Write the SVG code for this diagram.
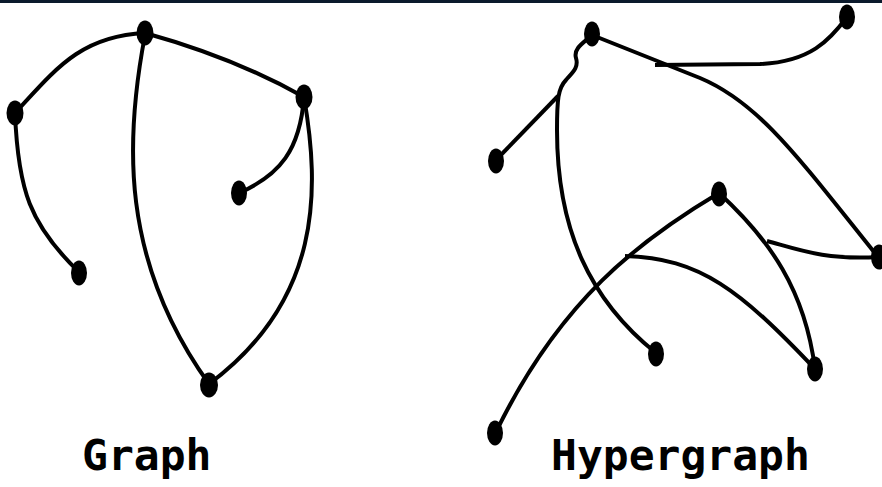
<svg xmlns="http://www.w3.org/2000/svg" width="882" height="487" viewBox="0 0 882 487">
<style>
.e{fill:none;stroke:#000;stroke-width:4;stroke-linecap:butt;stroke-linejoin:round}
.n{fill:#000}
.t{font-family:"DejaVu Sans Mono","Liberation Mono",monospace;font-weight:bold;font-size:43px;fill:#000}
</style>
<rect x="0" y="0" width="882" height="487" fill="#fff"/>
<rect x="0" y="0" width="882" height="3" fill="#0b1a2c"/>
<g id="connectors">
<!-- Graph -->
<path class="e" d="M15,113 C55,70 80,36 145,33"/>
<path class="e" d="M145,33 Q235,58 304,97"/>
<path class="e" d="M145,35 C125,140 120,260 209,384"/>
<path class="e" d="M304,97 C320,190 322,300 209,384"/>
<path class="e" d="M304,97 C300,150 280,175 239,193"/>
<path class="e" d="M15,113 C18,190 30,225 79,272"/>
<!-- Hypergraph -->
<path class="e" d="M592,35 C585,42 573,48 576,58 C579,68 572,73 566,80 C558,88 557,100 557,130 C557,230 590,300 656,353"/>
<path class="e" d="M558,96 L496,160"/>
<path class="e" d="M847,17 C830,40 810,62 760,64 L655,65"/>
<path class="e" d="M592,35 L700,78 C760,103 800,160 878,257"/>
<path class="e" d="M719,193 C640,240 560,300 496,432"/>
<path class="e" d="M625,256 C700,258 740,290 815,369"/>
<path class="e" d="M719,193 C770,240 805,290 815,369"/>
<path class="e" d="M767,241 C800,250 825,260 878,257"/>
</g>
<g id="g-a"><ellipse class="n" cx="145" cy="33" rx="8.5" ry="12.5"/></g>
<g id="g-b"><ellipse class="n" cx="15" cy="113" rx="8.5" ry="12.5"/></g>
<g id="g-c"><ellipse class="n" cx="304" cy="97" rx="8.5" ry="12.5"/></g>
<g id="g-d"><ellipse class="n" cx="239" cy="193" rx="8" ry="12.5"/></g>
<g id="g-e"><ellipse class="n" cx="79" cy="273" rx="8" ry="12.5"/></g>
<g id="g-f"><ellipse class="n" cx="209" cy="385" rx="9" ry="12.5"/></g>
<g id="h-1"><ellipse class="n" cx="592" cy="34" rx="8" ry="12.5"/></g>
<g id="h-2"><ellipse class="n" cx="847" cy="17" rx="8" ry="12.5"/></g>
<g id="h-3"><ellipse class="n" cx="496" cy="161" rx="8" ry="12.5"/></g>
<g id="h-4"><ellipse class="n" cx="719" cy="194" rx="8" ry="12.5"/></g>
<g id="h-5"><ellipse class="n" cx="879" cy="257" rx="8" ry="12.5"/></g>
<g id="h-6"><ellipse class="n" cx="656" cy="354" rx="8" ry="12.5"/></g>
<g id="h-7"><ellipse class="n" cx="815" cy="369" rx="8" ry="12.5"/></g>
<g id="h-8"><ellipse class="n" cx="495" cy="433" rx="8" ry="12.5"/></g>
<g id="label-graph"><text class="t" x="82" y="470">Graph</text></g>
<g id="label-hypergraph"><text class="t" x="551" y="470">Hypergraph</text></g>
</svg>
